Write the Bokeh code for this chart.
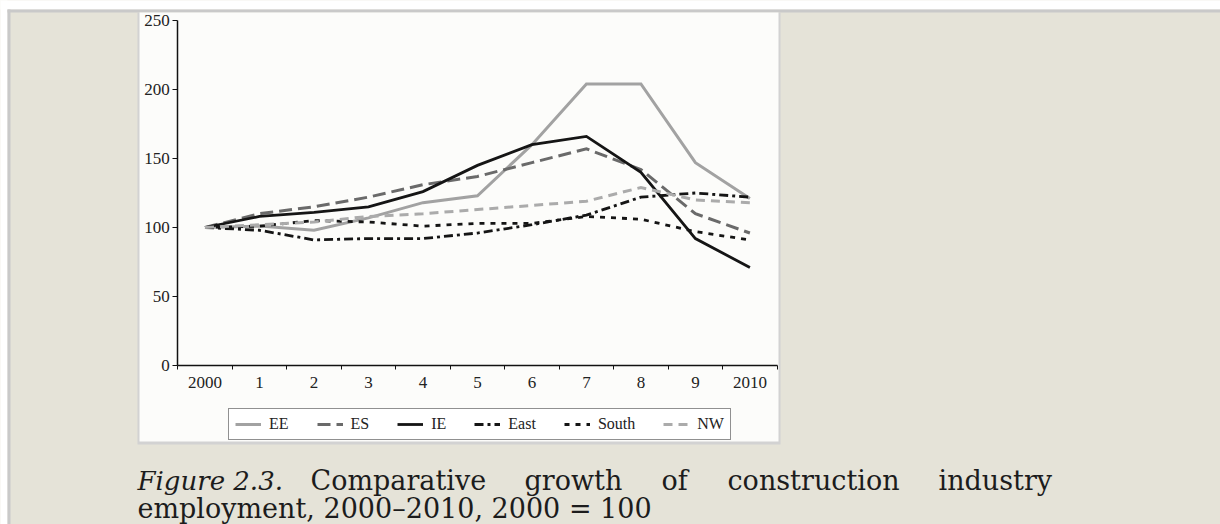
from bokeh.plotting import figure
from bokeh.models import (Range1d, FixedTicker, LinearAxis, BoxAnnotation, Label,
                          Legend, LegendItem)
from bokeh.embed import file_html
from bokeh.resources import INLINE

# ---------------- data ----------------
years = [2000, 2001, 2002, 2003, 2004, 2005, 2006, 2007, 2008, 2009, 2010]
tick_labels = ["2000", "1", "2", "3", "4", "5", "6", "7", "8", "9", "2010"]
y_ticks = [0, 50, 100, 150, 200, 250]

EE = [100, 101, 98, 107, 118, 123, 160, 204, 204, 147, 121]
ES = [100, 110, 115, 122, 131, 137, 147, 157, 142, 110, 96]
IE = [100, 108, 111, 115, 126, 145, 160, 166, 140, 92, 71]
East = [100, 98, 91, 92, 92, 96, 102, 109, 122, 125, 122]
South = [100, 101, 105, 104, 101, 103, 103, 108, 106, 97, 91]
NW = [100, 102, 104, 108, 110, 113, 116, 119, 129, 120, 118]

series = [("EE", EE), ("ES", ES), ("IE", IE), ("East", East), ("South", South), ("NW", NW)]

styles = {
    "EE": dict(color="#a2a2a2", dash="solid", width=3),
    "ES": dict(color="#6a6a6a", dash="13 6", width=3),
    "IE": dict(color="#151515", dash="solid", width=2.8),
    "East": dict(color="#151515", dash="9 4 3 4", width=2.8),
    "South": dict(color="#151515", dash="5 6", width=2.8),
    "NW": dict(color="#ababab", dash="9 6", width=3),
}

# ---------------- geometry ----------------
W, H = 1220, 524
X2000_PX = 204.5      # canvas x of year 2000
PX_PER_YEAR = 54.49
Y0_PX = 365.0         # canvas y of value 0
PX_PER_UNIT = 1.38

x_start = years[0] - X2000_PX / PX_PER_YEAR
x_end = x_start + W / PX_PER_YEAR
y_end = Y0_PX / PX_PER_UNIT
y_start = -(H - Y0_PX) / PX_PER_UNIT


def dx(px):
    return x_start + px / PX_PER_YEAR


def dy(py):
    return (Y0_PX - py) / PX_PER_UNIT


BEIGE = "#e5e3d8"

p = figure(width=W, height=H, x_range=Range1d(x_start, x_end), y_range=Range1d(y_start, y_end),
           output_backend="svg", toolbar_location=None, min_border=0,
           x_axis_type=None, y_axis_type=None)
p.outline_line_color = None
p.background_fill_color = BEIGE
p.border_fill_color = BEIGE


def box(l, r, t, b, color):
    p.add_layout(BoxAnnotation(left=dx(l), right=dx(r), top=dy(t), bottom=dy(b),
                               fill_color=color, fill_alpha=1, line_alpha=0, level="underlay"))


box(-5, 1230, -5, 9, "#ffffff")
box(-5, 7, -5, 530, "#ffffff")
box(7, 1230, 9, 12, "#c9c9c9")
box(7, 10, 9, 530, "#c9c9c9")
box(137, 780, 12, 444, "#d2d2d2")
box(139, 778, 12, 441, "#fcfcfa")

# ---------------- lines ----------------
items = []
for name, vals in series:
    st = styles[name]
    r = p.line(years, vals, line_color=st["color"], line_width=st["width"],
               line_dash=st["dash"], line_join="miter", line_cap="butt")
    items.append(LegendItem(label=name, renderers=[r]))

# ---------------- axes ----------------
font = "Liberation Serif"
yax = LinearAxis(fixed_location=years[0] - 0.5, bounds=(y_ticks[0], y_ticks[-1]),
                 ticker=FixedTicker(ticks=y_ticks, minor_ticks=[]),
                 axis_line_color="#111111", axis_line_width=1.5,
                 major_tick_line_color="#111111", major_tick_out=5, major_tick_in=0,
                 minor_tick_out=0, minor_tick_in=0, minor_tick_line_color=None,
                 major_label_standoff=3, major_label_text_font=font,
                 major_label_text_font_size="17px", major_label_text_color="#222222")
p.add_layout(yax, "left")

edges = [y - 0.5 for y in years] + [years[-1] + 0.5]
xax = LinearAxis(fixed_location=0, bounds=(edges[0], edges[-1]),
                 ticker=FixedTicker(ticks=edges, minor_ticks=[]),
                 axis_line_color="#111111", axis_line_width=1.5,
                 major_tick_line_color="#111111", major_tick_out=4, major_tick_in=0,
                 minor_tick_out=0, minor_tick_in=0, minor_tick_line_color=None,
                 major_label_text_color=None, major_label_text_font_size="1px")
p.add_layout(xax, "below")

xlab = LinearAxis(fixed_location=0, ticker=FixedTicker(ticks=years, minor_ticks=[]),
                  major_label_overrides={y: l for y, l in zip(years, tick_labels)},
                  axis_line_color=None, major_tick_line_color=None, minor_tick_line_color=None,
                  major_tick_out=0, major_tick_in=0, minor_tick_out=0, minor_tick_in=0,
                  major_label_standoff=11, major_label_text_font=font,
                  major_label_text_font_size="17px", major_label_text_color="#222222")
p.add_layout(xlab, "below")

# ---------------- legend ----------------
legend = Legend(items=items, orientation="horizontal", location=(228, H - 440),
                glyph_width=26, glyph_height=16, label_standoff=8, spacing=28,
                padding=6, margin=0, border_line_color="#222222", border_line_width=1,
                background_fill_color="white", background_fill_alpha=1,
                label_text_font=font, label_text_font_size="16px",
                label_text_color="#222222", label_width=1, label_height=1)
p.add_layout(legend)

# ---------------- caption ----------------
cap_font = "DejaVu Serif"
cap_color = "#1c1c1c"
p.add_layout(Label(x=dx(137), y=dy(480), text="Figure 2.3.", text_font=cap_font,
                   text_font_style="italic", text_font_size="26px", text_color=cap_color,
                   text_baseline="alphabetic"))
# first caption line is justified (spread out) in the reference
line1_words = [("Comparative", 310), ("growth", 524), ("of", 661), ("construction", 727),
               ("industry", 938)]
for word, px in line1_words:
    p.add_layout(Label(x=dx(px), y=dy(480), text=word, text_font=cap_font,
                       text_font_size="27px", text_color=cap_color, text_baseline="alphabetic"))
p.add_layout(Label(x=dx(137), y=dy(508), text="employment, 2000\u20132010, 2000 = 100",
                   text_font=cap_font, text_font_size="27px", text_color=cap_color,
                   text_baseline="alphabetic"))

open("out.html", "w").write(file_html(p, INLINE))
